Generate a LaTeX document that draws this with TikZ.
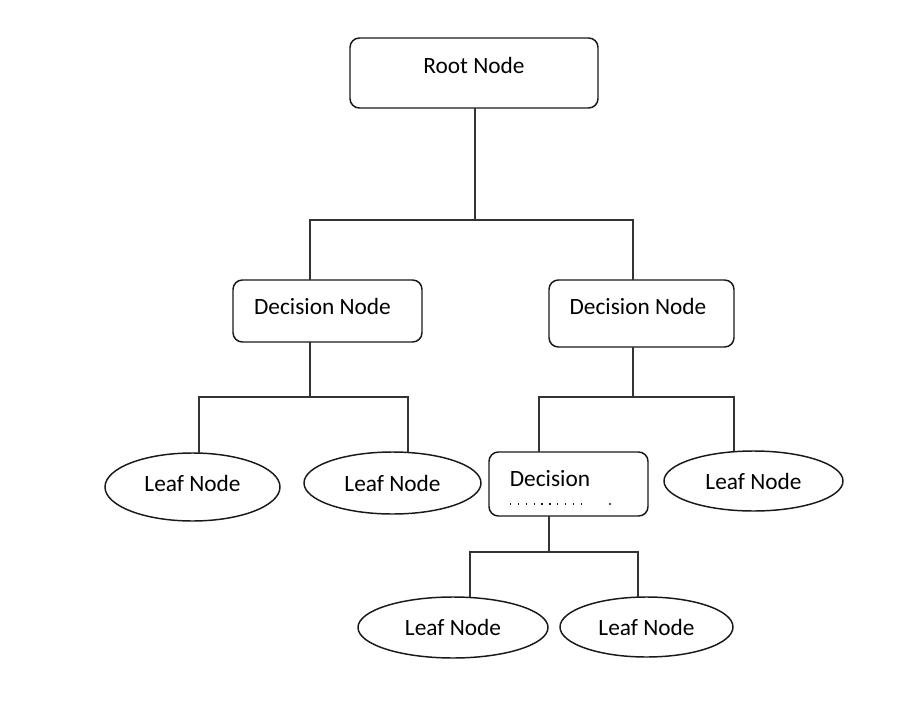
\documentclass[tikz,border=0pt]{standalone}
\usepackage{fontspec}
\setmainfont{Carlito}
\usepackage{tikz}
\usetikzlibrary{shapes.geometric}

\begin{document}
\begin{tikzpicture}[x=0.75pt, y=-0.75pt, font=\fontsize{17.5}{20}\selectfont,
	box/.style={draw=black!90, line width=1.1pt, rounded corners=7pt, inner sep=0pt, outer sep=0pt},
	leaf/.style={draw=black!90, line width=1.1pt, ellipse, inner sep=0pt, outer sep=0pt},
	link/.style={draw=black!80, line width=1.5pt}]
	\useasboundingbox (0,0) rectangle (901,707);
	\node[box, minimum width=186pt, minimum height=52.5pt] (root) at (474,73) {};
	\node (rootT) at (474,65) {Root Node};
	\node[box, minimum width=141.75pt, minimum height=46.5pt] (dl) at (327.5,311) {};
	\node (dlT) at (322.5,306) {Decision Node};
	\node[box, minimum width=138.75pt, minimum height=50.25pt] (dr) at (641.5,313.5) {};
	\node (drT) at (638,306) {Decision Node};
	\node[box, minimum width=119.25pt, minimum height=48pt] (dm) at (568.5,484) {};
	\node (dmT) at (550,479) {Decision};
	\draw[black!90, line width=0.9pt, dash pattern=on 0.9pt off 5pt] (510,504) -- (586,504);
	\fill[black!90] (610,504) circle (0.8pt);
	\node[leaf, minimum width=131.25pt, minimum height=51pt, text depth=5pt] (l1) at (192.5,487) {Leaf Node};
	\node[leaf, minimum width=132.75pt, minimum height=46.5pt] (l2) at (392.5,483) {Leaf Node};
	\node[leaf, minimum width=134.25pt, minimum height=45pt] (l3) at (753.5,481) {Leaf Node};
	\node[leaf, minimum width=142.5pt, minimum height=45.75pt] (l4) at (453,627.5) {Leaf Node};
	\node[leaf, minimum width=129.75pt, minimum height=45pt] (l5) at (646.5,627) {Leaf Node};
	\coordinate (j1) at (475,220);
	\coordinate (j2) at (310,397);
	\coordinate (j3) at (633,397);
	\coordinate (j4) at (549,552);
	\draw[link] (root.south -| j1) -- (j1);
	\draw[link] (dl.north -| j2) |- (j1) -| (dr.north -| j3);
	\draw[link] (dl.south -| j2) -- (j2);
	\draw[link] (l1.north -| 199,0) |- (j2) -| (l2.north -| 408,0);
	\draw[link] (dr.south -| j3) -- (j3);
	\draw[link] (dm.north -| 539,0) |- (j3) -| (l3.north -| 734,0);
	\draw[link] (dm.south -| j4) -- (j4);
	\draw[link] (l4.north -| 470,0) |- (j4) -| (l5.north -| 638,0);
\end{tikzpicture}
\end{document}
